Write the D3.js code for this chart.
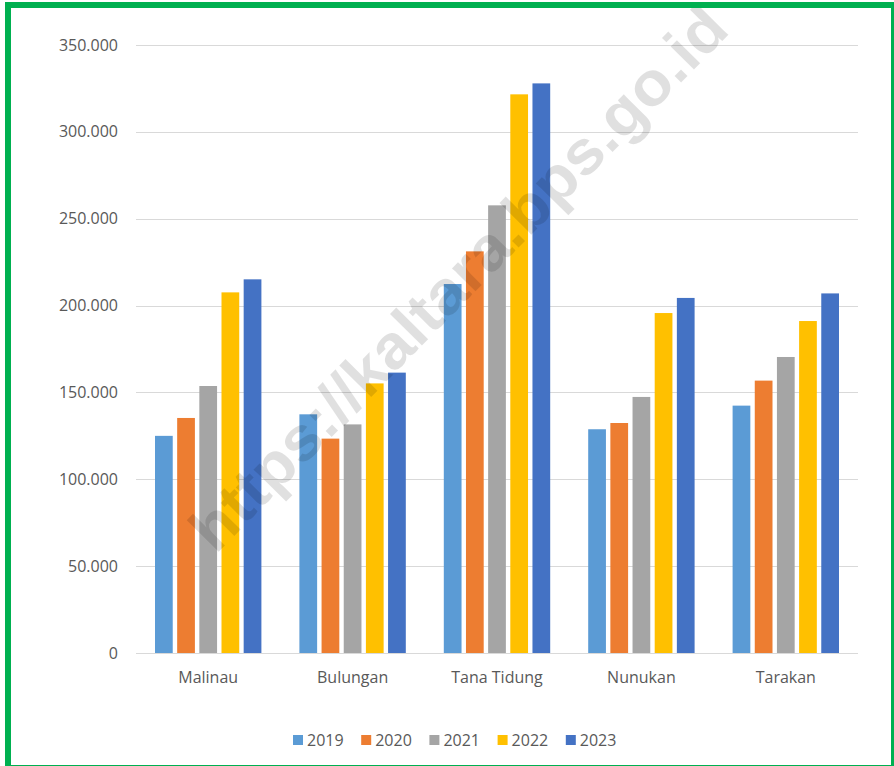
<!DOCTYPE html>
<html>
<head>
<meta charset="utf-8">
<script src="https://cdn.jsdelivr.net/npm/d3@7"></script>
<style>
  html, body { margin: 0; padding: 0; background: #fff; }
  svg { display: block; }
</style>
</head>
<body>
<div id="chart"></div>
<script>
// data
var categories = ["Malinau", "Bulungan", "Tana Tidung", "Nunukan", "Tarakan"];
var years = ["2019", "2020", "2021", "2022", "2023"];
var v2019 = [125000, 137400, 212400, 128800, 142400];
var v2020 = [135300, 123400, 231200, 132400, 156800];
var v2021 = [153700, 131600, 257700, 147400, 170400];
var v2022 = [207600, 155200, 321600, 195700, 191100];
var v2023 = [215100, 161400, 327900, 204400, 207000];
var yTicks = [0, 50000, 100000, 150000, 200000, 250000, 300000, 350000];
var colors = ["#5B9BD5", "#ED7D31", "#A5A5A5", "#FFC000", "#4472C4"];

var series = [v2019, v2020, v2021, v2022, v2023];

var width = 894, height = 766;
var fontFamily = "'Open Sans', 'DejaVu Sans', sans-serif";
var textColor = "#595959";

var svg = d3.select("#chart").append("svg")
  .attr("width", width)
  .attr("height", height);

svg.append("rect").attr("width", width).attr("height", height).attr("fill", "#fff");

var plot = { left: 136, right: 858, top: 45, bottom: 653 };

var x0 = d3.scaleBand().domain(categories).range([plot.left, plot.right]).padding(0);
var x1 = d3.scaleBand().domain(years)
  .range([19, x0.bandwidth() - 19])
  .paddingInner(0.2);
var y = d3.scaleLinear().domain([0, 350000]).range([plot.bottom, plot.top]);

var nf = d3.formatLocale({ decimal: ",", thousands: ".", grouping: [3], currency: ["", ""] }).format(",");

// gridlines
svg.append("g").selectAll("line")
  .data(yTicks)
  .join("line")
  .attr("x1", plot.left).attr("x2", plot.right)
  .attr("y1", function (d) { return Math.round(y(d)) + 0.5; })
  .attr("y2", function (d) { return Math.round(y(d)) + 0.5; })
  .attr("stroke", "#D9D9D9")
  .attr("stroke-width", 1);

// y labels
svg.append("g").selectAll("text")
  .data(yTicks)
  .join("text")
  .attr("x", 118)
  .attr("y", function (d) { return y(d); })
  .attr("dy", "0.35em")
  .attr("text-anchor", "end")
  .attr("font-family", fontFamily)
  .attr("font-size", "16px")
  .attr("fill", textColor)
  .text(function (d) { return nf(d); });

// bars
var groups = svg.append("g").selectAll("g")
  .data(categories)
  .join("g")
  .attr("transform", function (d) { return "translate(" + x0(d) + ",0)"; });

groups.selectAll("rect")
  .data(function (c, ci) {
    return years.map(function (yr, si) { return { year: yr, value: series[si][ci], i: si }; });
  })
  .join("rect")
  .attr("x", function (d) { return x1(d.year); })
  .attr("width", x1.bandwidth())
  .attr("y", function (d) { return y(d.value); })
  .attr("height", function (d) { return y(0) - y(d.value); })
  .attr("fill", function (d) { return colors[d.i]; });

// category labels
svg.append("g").selectAll("text")
  .data(categories)
  .join("text")
  .attr("x", function (d) { return x0(d) + x0.bandwidth() / 2; })
  .attr("y", 677)
  .attr("dy", "0.35em")
  .attr("text-anchor", "middle")
  .attr("font-family", fontFamily)
  .attr("font-size", "16px")
  .attr("fill", textColor)
  .text(function (d) { return d; });

// legend
var legend = svg.append("g").attr("transform", "translate(293,740)");
var item = legend.selectAll("g")
  .data(years)
  .join("g")
  .attr("transform", function (d, i) { return "translate(" + (i * 68.2) + ",0)"; });
item.append("rect")
  .attr("x", 0).attr("y", -5)
  .attr("width", 10).attr("height", 10)
  .attr("fill", function (d, i) { return colors[i]; });
item.append("text")
  .attr("x", 14).attr("y", 0)
  .attr("dy", "0.35em")
  .attr("font-family", fontFamily)
  .attr("font-size", "16px")
  .attr("fill", textColor)
  .text(function (d) { return d; });

// watermark
svg.append("text")
  .attr("transform", "translate(458,278) rotate(-45.4)")
  .attr("text-anchor", "middle")
  .attr("dy", "0.35em")
  .attr("font-family", "'Liberation Sans', Arial, sans-serif")
  .attr("font-weight", "bold")
  .attr("font-size", "62px")
  .attr("textLength", 735)
  .attr("lengthAdjust", "spacingAndGlyphs")
  .attr("fill", "#000")
  .attr("fill-opacity", 0.12)
  .text("https://kaltara.bps.go.id");

// green frame
svg.append("rect")
  .attr("x", 8).attr("y", 5)
  .attr("width", 886).attr("height", 763)
  .attr("fill", "none")
  .attr("stroke", "#00B050")
  .attr("stroke-width", 6);
</script>
</body>
</html>
